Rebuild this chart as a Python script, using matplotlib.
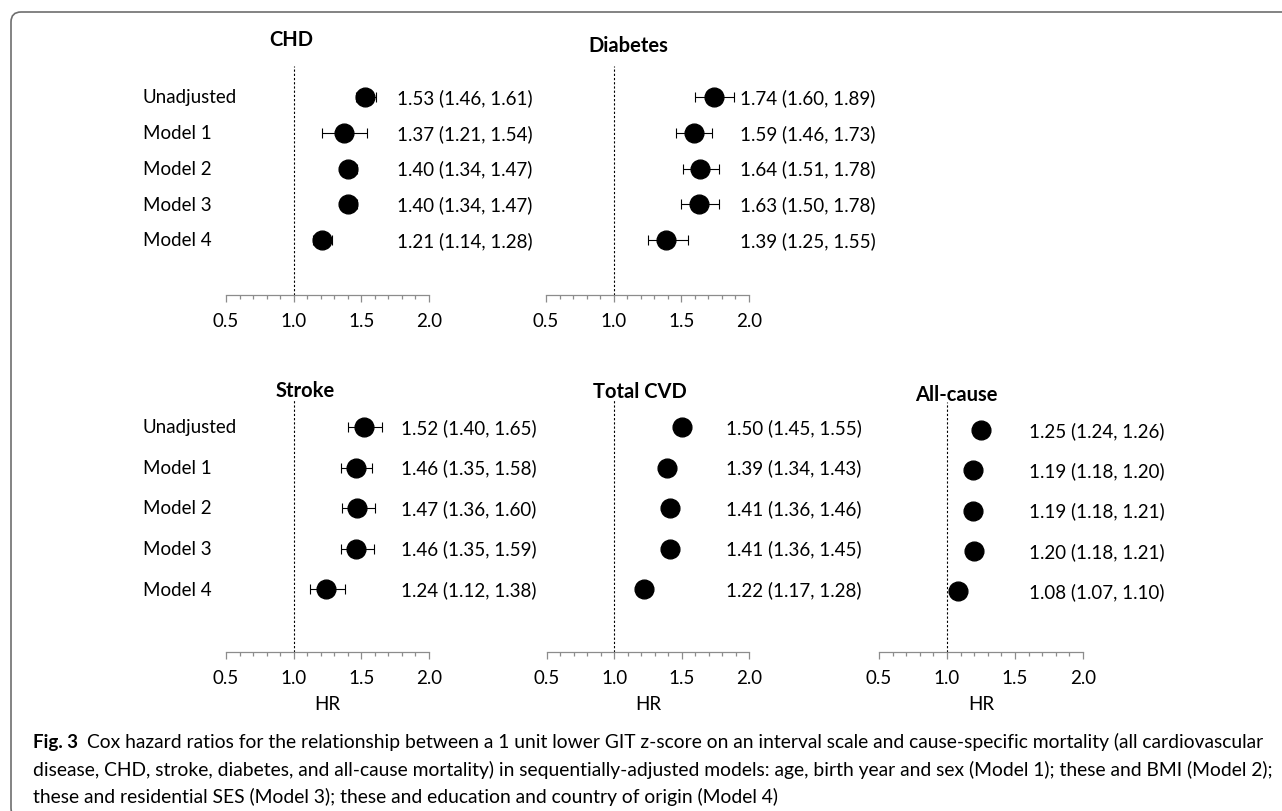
import matplotlib
matplotlib.use("Agg")
import matplotlib.pyplot as plt
from matplotlib.patches import FancyBboxPatch
from matplotlib.transforms import IdentityTransform, blended_transform_factory
from matplotlib.ticker import MultipleLocator, FormatStrFormatter

plt.rcParams['font.family'] = ['Lato', 'DejaVu Sans']

# hazard ratios with 95% CI, one list per outcome
models = ['Unadjusted', 'Model 1', 'Model 2', 'Model 3', 'Model 4']

chd_hr = [1.53, 1.37, 1.40, 1.40, 1.21]
chd_lo = [1.46, 1.21, 1.34, 1.34, 1.14]
chd_hi = [1.61, 1.54, 1.47, 1.47, 1.28]

diabetes_hr = [1.74, 1.59, 1.64, 1.63, 1.39]
diabetes_lo = [1.60, 1.46, 1.51, 1.50, 1.25]
diabetes_hi = [1.89, 1.73, 1.78, 1.78, 1.55]

stroke_hr = [1.52, 1.46, 1.47, 1.46, 1.24]
stroke_lo = [1.40, 1.35, 1.36, 1.35, 1.12]
stroke_hi = [1.65, 1.58, 1.60, 1.59, 1.38]

cvd_hr = [1.50, 1.39, 1.41, 1.41, 1.22]
cvd_lo = [1.45, 1.34, 1.36, 1.36, 1.17]
cvd_hi = [1.55, 1.43, 1.46, 1.45, 1.28]

allcause_hr = [1.25, 1.19, 1.19, 1.20, 1.08]
allcause_lo = [1.24, 1.18, 1.18, 1.18, 1.07]
allcause_hi = [1.26, 1.20, 1.21, 1.21, 1.10]

W, H = 1282, 812
fig = plt.figure(figsize=(W / 100, H / 100), dpi=100)

FS = 13.5
GRAY = '#8c8c8c'


def forest(title, hr, lo, hi, x0, x1, y_top, y_axis, row0, row4,
           title_xy, text_x, show_labels=False, xlabel=False):
    ax = fig.add_axes([x0 / W, 1 - y_axis / H, (x1 - x0) / W, (y_axis - y_top) / H])
    step = (row4 - row0) / 4
    ax.set_ylim(4 + (y_axis - row4) / step, -(row0 - y_top) / step)
    ax.set_xlim(0.5, 2.0)
    ys = list(range(len(hr)))

    ax.axvline(1.0, color='black', lw=0.8, ls=(0, (2, 1.8)), zorder=1)
    xerr = [[h - l for h, l in zip(hr, lo)], [u - h for h, u in zip(hr, hi)]]
    ax.errorbar(hr, ys, xerr=xerr, fmt='none', ecolor='black', elinewidth=0.8,
                capsize=3.5, capthick=0.8, zorder=2)
    ax.plot(hr, ys, 'o', ms=13.5, color='black', zorder=3)

    for s in ['left', 'top', 'right']:
        ax.spines[s].set_visible(False)
    ax.spines['bottom'].set_color(GRAY)
    ax.spines['bottom'].set_linewidth(0.9)
    ax.set_yticks([])
    ax.xaxis.set_major_locator(MultipleLocator(0.5))
    ax.xaxis.set_minor_locator(MultipleLocator(0.1))
    ax.xaxis.set_major_formatter(FormatStrFormatter('%.1f'))
    ax.tick_params(axis='x', which='major', direction='out', length=5, width=0.9,
                   color=GRAY, labelsize=FS, pad=7)
    ax.tick_params(axis='x', which='minor', direction='out', length=3, width=0.9,
                   color=GRAY)

    tr = blended_transform_factory(fig.transFigure, ax.transData)
    for y, h, l, u in zip(ys, hr, lo, hi):
        ax.text(text_x / W, y, f'{h:.2f} ({l:.2f}, {u:.2f})', transform=tr,
                ha='left', va='center', fontsize=FS, clip_on=False)
        if show_labels:
            ax.text(143 / W, y, models[y], transform=tr, ha='left', va='center',
                    fontsize=FS, clip_on=False)

    fig.text(title_xy[0] / W, 1 - title_xy[1] / H, title, ha='center', va='center',
             fontsize=14.5, fontweight='bold')
    if xlabel:
        fig.text((x0 + x1) / 2 / W, 1 - 705 / H, 'HR', ha='center', va='center',
                 fontsize=FS)
    return ax


forest('CHD', chd_hr, chd_lo, chd_hi, 226, 429, 67, 296, 98, 241,
       (291, 40), 397, show_labels=True)
forest('Diabetes', diabetes_hr, diabetes_lo, diabetes_hi, 546, 749, 67, 296, 98, 241,
       (628, 46), 740)
forest('Stroke', stroke_hr, stroke_lo, stroke_hi, 226, 429, 400, 653, 428, 590,
       (305, 391), 401, show_labels=True, xlabel=True)
forest('Total CVD', cvd_hr, cvd_lo, cvd_hi, 547, 749, 400, 653, 428, 590,
       (640, 392), 726, xlabel=True)
forest('All-cause', allcause_hr, allcause_lo, allcause_hi, 879, 1083, 403, 653, 431, 592,
       (956, 395), 1029, xlabel=True)

# rounded frame, open to the right and bottom edges
frame = FancyBboxPatch((11, -7), 1400, H - 13 + 7,
                       boxstyle='round,pad=0,rounding_size=10',
                       transform=IdentityTransform(), fill=False,
                       edgecolor='#6e6e6e', lw=1.2)
fig.patches.append(frame)

# caption
cap1 = ('Cox hazard ratios for the relationship between a 1 unit lower GIT z-score on an '
        'interval scale and cause-specific mortality (all cardiovascular')
cap2 = ('disease, CHD, stroke, diabetes, and all-cause mortality) in sequentially-adjusted '
        'models: age, birth year and sex (Model 1); these and BMI (Model 2);')
cap3 = 'these and residential SES (Model 3); these and education and country of origin (Model 4)'

cfs = 13
fig.text(33 / W, 1 - 748 / H, 'Fig. 3', fontsize=13.5, fontweight='bold',
         ha='left', va='baseline')
t1 = fig.text(87 / W, 1 - 748 / H, cap1, fontsize=cfs, ha='left', va='baseline')
renderer = fig.canvas.get_renderer()
w1 = t1.get_window_extent(renderer).width
cfs = cfs * (1262 - 87) / w1
t1.set_fontsize(cfs)
fig.text(33 / W, 1 - 776 / H, cap2, fontsize=cfs, ha='left', va='baseline')
fig.text(33 / W, 1 - 803 / H, cap3, fontsize=cfs, ha='left', va='baseline')

fig.savefig('out.png', dpi=100)
